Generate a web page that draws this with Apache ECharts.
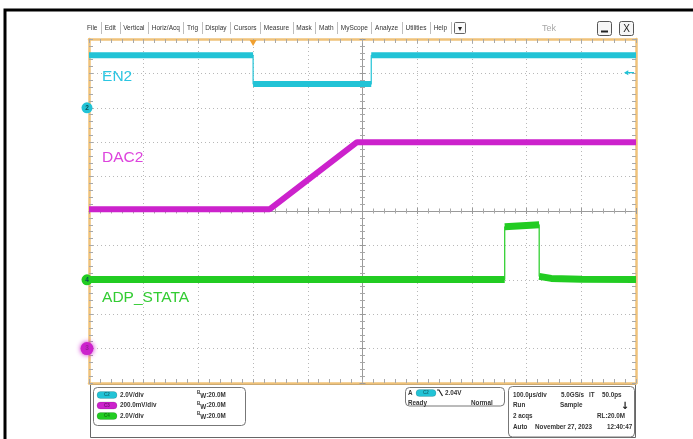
<!DOCTYPE html>
<html>
<head>
<meta charset="utf-8">
<script src="https://cdn.jsdelivr.net/npm/echarts@6/dist/echarts.min.js"></script>
<style>
  html, body { margin: 0; padding: 0; background: #ffffff; }
  #scope { width: 693px; height: 439px; }
</style>
</head>
<body>
<div id="scope"></div>
<script>
// Horizontal: 100 µs/div, trigger point 3 divisions from the left edge (t = 0)
const timeMin = -300, timeMax = 700, timeStep = 100;
// Vertical: 10 divisions, ±5 around the centre graticule line
const divMin = -5, divMax = 5;

// EN2 (C2, 2.0 V/div)
const en2Time = [-300, 0, 0, 216, 216, 700];
const en2Volt = [3.05, 3.05, 1.38, 1.38, 3.05, 3.05];
// DAC2 (C3, 200 mV/div)
const dacTime = [-300, 30, 190, 700];
const dacVolt = [0.81, 0.81, 1.20, 1.20];
// ADP_STATA (C4, 2.0 V/div)
const adpTime = [-300, 460, 460, 523, 523, 545, 600, 700];
const adpVolt = [0.02, 0.02, 3.08, 3.20, 0.20, 0.08, 0.03, 0.02];

// Trigger: C2 falling edge at 2.04 V
const trigLevel = 2.04;

const channels = [
  { label: 'EN2', id: '2', color: '#22c3d6', textColor: '#2cc6e2', scale: 2.0, ground: 3,
    time: en2Time, volt: en2Volt, width: 6, labelAt: [-277, 3.9] },
  { label: 'DAC2', id: '3', color: '#cc22cc', textColor: '#dd44dd', scale: 0.2, ground: -4,
    time: dacTime, volt: dacVolt, width: 6, labelAt: [-277, 1.55] },
  { label: 'ADP_STATA', id: '4', color: '#22cc22', textColor: '#33cc33', scale: 2.0, ground: -2,
    time: adpTime, volt: adpVolt, width: 7, labelAt: [-277, -2.53] }
];

const menuItems = ['File', 'Edit', 'Vertical', 'Horiz/Acq', 'Trig', 'Display', 'Cursors',
  'Measure', 'Mask', 'Math', 'MyScope', 'Analyze', 'Utilities', 'Help'];

const ORANGE = '#efc27a';
const GRAT = '#b8b8b8';

function toDiv(ch, v) { return ch.ground + v / ch.scale; }

// thin trace through every point (the fast edges) and a thick band
// that is broken wherever the trace jumps vertically
function traceSeries(ch) {
  const thin = ch.time.map((t, i) => [t, toDiv(ch, ch.volt[i])]);
  const thick = [];
  ch.time.forEach((t, i) => {
    if (i > 0 && t === ch.time[i - 1]) thick.push([t, null]);
    thick.push([t, toDiv(ch, ch.volt[i])]);
  });
  return [
    { type: 'line', data: thin, symbol: 'none', xAxisIndex: 0, yAxisIndex: 0,
      lineStyle: { color: ch.color, width: 1.2 }, z: 5, animation: false, silent: true,
      markPoint: {
        symbol: 'circle', symbolSize: ch.id === '3' ? 13 : 11, silent: true, animation: false,
        data: [{ coord: [timeMin, ch.ground], symbolOffset: [-2, 0],
          itemStyle: { color: ch.color, shadowBlur: ch.id === '3' ? 5 : 0, shadowColor: ch.color },
          label: { show: true, formatter: ch.id, color: ch.id === '3' ? '#9a209a' : '#0b4f55',
            fontSize: 6.5, fontWeight: 'bold', fontFamily: 'Liberation Sans' } },
          { coord: ch.labelAt, symbol: 'rect', symbolSize: 1,
            itemStyle: { color: 'rgba(0,0,0,0)' },
            label: { show: true, formatter: ch.label, position: 'right', distance: 0,
              color: ch.textColor, fontSize: 15.5, fontFamily: 'Liberation Sans' } }]
      } },
    { type: 'line', data: thick, symbol: 'none', connectNulls: false, xAxisIndex: 0, yAxisIndex: 0,
      lineStyle: { color: ch.color, width: ch.width, cap: 'butt', join: 'bevel' },
      z: 6, animation: false, silent: true }
  ];
}

const series = [];
channels.forEach(ch => series.push(...traceSeries(ch)));

// trigger position (top) and trigger level (right) indicators
series.push({
  type: 'scatter', data: [], xAxisIndex: 0, yAxisIndex: 0, silent: true, animation: false,
  markPoint: {
    silent: true, animation: false,
    data: [
      { coord: [0, divMax], symbol: 'triangle', symbolRotate: 180, symbolSize: [7, 6],
        symbolOffset: [0, 4], itemStyle: { color: '#f0a030' }, label: { show: false } },
      { coord: [timeMax, toDiv(channels[0], trigLevel)],
        symbol: 'path://M0,5 L6,0 L6,3.8 L14,3.8 L14,6.2 L6,6.2 L6,10 Z',
        symbolSize: [10, 5], symbolOffset: [-7, 0], itemStyle: { color: channels[0].color },
        label: { show: false } }
    ]
  }
});

const gridW = 547, gridH = 344;

function frameAxis(dim, position, split) {
  const isX = dim === 'x';
  return {
    type: 'value', position,
    min: isX ? timeMin : divMin, max: isX ? timeMax : divMax, interval: isX ? timeStep : 1,
    axisLine: { show: true, onZero: false, lineStyle: { color: ORANGE, width: 2.5 } },
    axisTick: { show: true, inside: true, length: 4, lineStyle: { color: '#a8a8a8' } },
    minorTick: { show: true, splitNumber: 5, length: 4, lineStyle: { color: '#a8a8a8' } },
    axisLabel: { show: false },
    splitLine: { show: split, lineStyle: { color: GRAT, width: 1, type: [1, 3] } }
  };
}
function centreAxis(dim, inside, showLine) {
  const isX = dim === 'x';
  return {
    type: 'value', position: isX ? 'bottom' : 'left',
    offset: isX ? -gridH / 2 : -gridW / 2,
    min: isX ? timeMin : divMin, max: isX ? timeMax : divMax, interval: isX ? timeStep : 1,
    axisLine: { show: showLine, onZero: false, lineStyle: { color: '#9a9a9a', width: 1 } },
    axisTick: { show: true, inside, length: 3, lineStyle: { color: '#9a9a9a' } },
    minorTick: { show: true, splitNumber: 5, length: 2.5, lineStyle: { color: '#a8a8a8' } },
    axisLabel: { show: false }, splitLine: { show: false }
  };
}

// ---- window chrome: menu bar, buttons, status panels ----
const FONT = 'Liberation Sans';
const graphic = [];

graphic.push({ type: 'rect', shape: { x: 5, y: 10, width: 720, height: 460 },
  style: { fill: 'none', stroke: '#000', lineWidth: 3 }, z: 100, silent: true });

(function menuBar() {
  const ctx = document.createElement('canvas').getContext('2d');
  ctx.font = '6.5px "' + FONT + '"';
  const widths = menuItems.map(s => ctx.measureText(s).width);
  const x0 = 87, x1 = 447;
  const total = widths.reduce((a, b) => a + b, 0);
  const gap = (x1 - x0 - total) / (menuItems.length - 1);
  let x = x0;
  menuItems.forEach((s, i) => {
    graphic.push({ type: 'text', x, y: 28, silent: true,
      style: { text: s, fill: '#333', font: '6.5px "' + FONT + '"', verticalAlign: 'middle' } });
    x += widths[i];
    const sx = Math.round(x + gap / 2) + 0.5;
    graphic.push({ type: 'line', silent: true, shape: { x1: sx, y1: 22, x2: sx, y2: 34 },
      style: { stroke: '#bdbdbd', lineWidth: 1 } });
    x += gap;
  });
  // drop-down button
  graphic.push({ type: 'rect', silent: true, shape: { x: 454.5, y: 22.5, width: 11, height: 11, r: 1 },
    style: { fill: '#fafafa', stroke: '#666', lineWidth: 1 } });
  graphic.push({ type: 'text', x: 460, y: 28.5, silent: true,
    style: { text: '▾', fill: '#222', font: 'bold 8px "DejaVu Sans"', align: 'center', verticalAlign: 'middle' } });
})();

graphic.push({ type: 'text', x: 542, y: 28.5, silent: true,
  style: { text: 'Tek', fill: '#a8a8a8', font: '9px "' + FONT + '"', verticalAlign: 'middle' } });
graphic.push({ type: 'rect', silent: true, shape: { x: 597.5, y: 21.5, width: 14, height: 14, r: 2 },
  style: { fill: '#f6f6f6', stroke: '#555', lineWidth: 1 } });
graphic.push({ type: 'line', silent: true, shape: { x1: 601, y1: 31.5, x2: 608, y2: 31.5 },
  style: { stroke: '#222', lineWidth: 2 } });
graphic.push({ type: 'rect', silent: true, shape: { x: 619.5, y: 21.5, width: 14, height: 14, r: 2 },
  style: { fill: '#f6f6f6', stroke: '#555', lineWidth: 1 } });
graphic.push({ type: 'text', x: 626.5, y: 29, silent: true,
  style: { text: 'X', fill: '#222', font: '10px "' + FONT + '"', align: 'center', verticalAlign: 'middle' } });

// bottom status area
const SMALL = 'bold 6.3px "' + FONT + '"';
function txt(x, y, s, extra) {
  graphic.push(Object.assign({ type: 'text', x, y, silent: true,
    style: Object.assign({ text: s, fill: '#333', font: SMALL, verticalAlign: 'middle' }, extra || {}) }));
}
function pill(x, y, color, name) {
  graphic.push({ type: 'rect', silent: true, shape: { x, y: y - 3.5, width: 20, height: 7, r: 3.5 },
    style: { fill: color, stroke: 'rgba(0,0,0,0.25)', lineWidth: 0.5 } });
  txt(x + 10, y, name, { fill: 'rgba(0,0,0,0.45)', font: 'bold 4.5px "' + FONT + '"', align: 'center' });
}
graphic.push({ type: 'rect', silent: true, shape: { x: 90.5, y: 384.5, width: 545, height: 53 },
  style: { fill: '#fff', stroke: '#666', lineWidth: 1 } });
graphic.push({ type: 'rect', silent: true, shape: { x: 93.5, y: 387.5, width: 152, height: 38, r: 4 },
  style: { fill: '#fff', stroke: '#777', lineWidth: 1 } });
const rows = [395, 405.5, 416];
const chanText = ['2.0V/div', '200.0mV/div', '2.0V/div'];
const chanName = ['C2', 'C3', 'C4'];
channels.forEach((ch, i) => {
  pill(97, rows[i], ch.color, chanName[i]);
  txt(120, rows[i], chanText[i]);
  graphic.push({ type: 'text', x: 197, y: rows[i], silent: true,
    style: { text: '{s|B}{w|W}:20.0M', fill: '#333', font: SMALL, verticalAlign: 'middle',
      rich: { s: { fontSize: 4.5, fontWeight: 'bold', fontFamily: FONT, padding: [0, 0, 4, 0] },
        w: { fontSize: 6.3, fontWeight: 'bold', fontFamily: FONT, padding: [3, 0, 0, 0] } } } });
});
graphic.push({ type: 'rect', silent: true, shape: { x: 405.5, y: 387.5, width: 99, height: 18.5, r: 4 },
  style: { fill: '#fff', stroke: '#777', lineWidth: 1 } });
txt(408, 393, 'A');
pill(416, 393, channels[0].color, 'C2');
graphic.push({ type: 'polyline', silent: true, shape: { points: [[437, 390], [439, 390], [442.5, 396]] },
  style: { stroke: '#222', lineWidth: 1.2, fill: 'none' } });
txt(445, 393, trigLevel.toFixed(2) + 'V');
txt(408, 403, 'Ready');
txt(471, 403, 'Normal');

graphic.push({ type: 'rect', silent: true, shape: { x: 508.5, y: 386.5, width: 126, height: 50.5, r: 4 },
  style: { fill: '#fff', stroke: '#777', lineWidth: 1 } });
txt(513, 395, '100.0µs/div');
txt(561, 395, '5.0GS/s');
txt(589, 395, 'IT');
txt(602, 395, '50.0ps');
txt(513, 405.5, 'Run');
txt(560, 405.5, 'Sample');
txt(625, 406, '↓', { font: 'bold 10px "DejaVu Sans"', fill: '#111', align: 'center' });
txt(513, 416.3, '2 acqs');
txt(597, 416.3, 'RL:20.0M');
txt(513, 427, 'Auto');
txt(535, 427, 'November 27, 2023');
txt(607, 427, '12:40:47');

const chart = echarts.init(document.getElementById('scope'), null, { renderer: 'canvas' });
chart.setOption({
  backgroundColor: '#ffffff',
  animation: false,
  grid: { left: 89, top: 39, width: gridW, height: gridH, show: false, containLabel: false },
  xAxis: [
    frameAxis('x', 'bottom', true),
    frameAxis('x', 'top', false),
    centreAxis('x', true, true),
    centreAxis('x', false, false)
  ],
  yAxis: [
    frameAxis('y', 'left', true),
    frameAxis('y', 'right', false),
    centreAxis('y', true, true),
    centreAxis('y', false, false)
  ],
  series,
  graphic
});
</script>
</body>
</html>
